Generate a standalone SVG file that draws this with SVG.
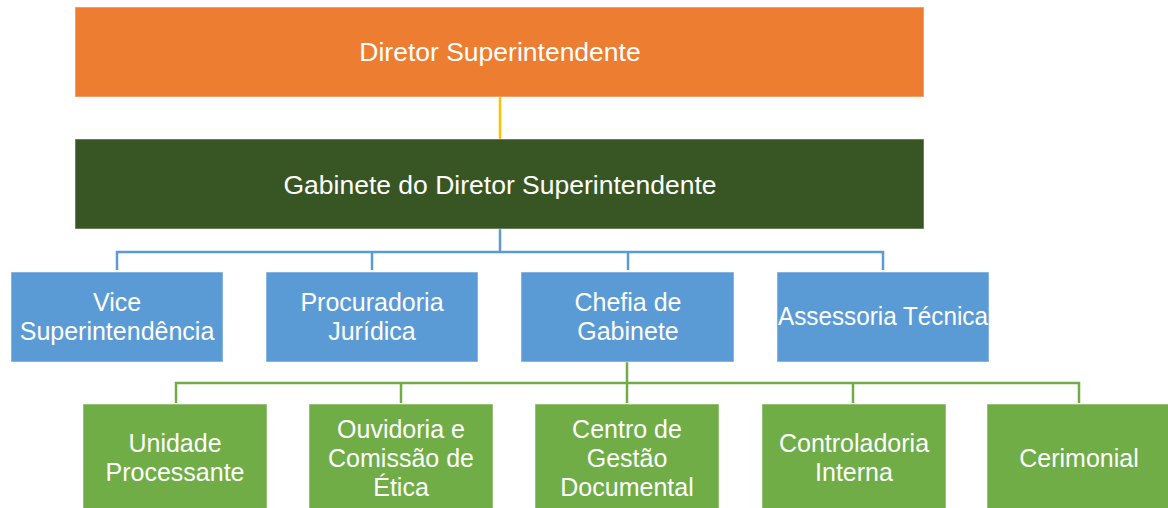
<svg xmlns="http://www.w3.org/2000/svg" width="1168" height="508" viewBox="0 0 1168 508">
<style>
  .box { stroke: #ffffff; stroke-width: 1; stroke-opacity: 0.5; }
  .orange { fill: #ED7D31; }
  .dark { fill: #375623; }
  .blue { fill: #5B9BD5; }
  .green { fill: #70AD47; }
  text { font-family: "Liberation Sans", Arial, sans-serif; fill: #ffffff; text-anchor: middle; }
  .t1 { font-size: 26.5px; }
  .t2 { font-size: 25px; }
  .conn { fill: none; stroke-width: 2.5; }
</style>
<rect width="1168" height="508" fill="#ffffff"/>
<g id="connectors">
  <path class="conn" stroke="#FFC000" d="M500 97 V139"/>
  <path class="conn" stroke="#5B9BD5" d="M500 229 V252 M117 270 V252 H883 V270 M372 252 V270 M628 252 V270"/>
  <path class="conn" stroke="#70AD47" d="M627 362 V403 M176 403 V383 H1079 V403 M401 383 V403 M853 383 V403"/>
</g>
<g id="diretor">
  <rect class="box orange" x="75" y="7" width="849" height="90"/>
  <text class="t1" x="500" y="61">Diretor Superintendente</text>
</g>
<g id="gabinete">
  <rect class="box dark" x="75" y="139" width="849" height="90"/>
  <text class="t1" x="500" y="194">Gabinete do Diretor Superintendente</text>
</g>
<g id="vice">
  <rect class="box blue" x="11" y="272" width="212" height="90"/>
  <text class="t2" x="117" y="311"><tspan x="117">Vice</tspan><tspan x="117" y="340">Superintendência</tspan></text>
</g>
<g id="procuradoria">
  <rect class="box blue" x="266" y="272" width="212" height="90"/>
  <text class="t2" x="372" y="311"><tspan x="372">Procuradoria</tspan><tspan x="372" y="340">Jurídica</tspan></text>
</g>
<g id="chefia">
  <rect class="box blue" x="521" y="272" width="213" height="90"/>
  <text class="t2" x="628" y="311"><tspan x="628">Chefia de</tspan><tspan x="628" y="340">Gabinete</tspan></text>
</g>
<g id="assessoria">
  <rect class="box blue" x="777" y="272" width="212" height="90"/>
  <text class="t2" x="883" y="325" textLength="210" lengthAdjust="spacingAndGlyphs">Assessoria Técnica</text>
</g>
<g id="unidade">
  <rect class="box green" x="83" y="404" width="184" height="108"/>
  <text class="t2" x="175" y="452"><tspan x="175">Unidade</tspan><tspan x="175" y="481">Processante</tspan></text>
</g>
<g id="ouvidoria">
  <rect class="box green" x="309" y="404" width="184" height="108"/>
  <text class="t2" x="401" y="438"><tspan x="401">Ouvidoria e</tspan><tspan x="401" y="467">Comissão de</tspan><tspan x="401" y="496">Ética</tspan></text>
</g>
<g id="centro">
  <rect class="box green" x="535" y="404" width="184" height="108"/>
  <text class="t2" x="627" y="438"><tspan x="627">Centro de</tspan><tspan x="627" y="467">Gestão</tspan><tspan x="627" y="496">Documental</tspan></text>
</g>
<g id="controladoria">
  <rect class="box green" x="762" y="404" width="184" height="108"/>
  <text class="t2" x="854" y="452"><tspan x="854">Controladoria</tspan><tspan x="854" y="481">Interna</tspan></text>
</g>
<g id="cerimonial">
  <rect class="box green" x="987" y="404" width="184" height="108"/>
  <text class="t2" x="1079" y="467">Cerimonial</text>
</g>
</svg>
